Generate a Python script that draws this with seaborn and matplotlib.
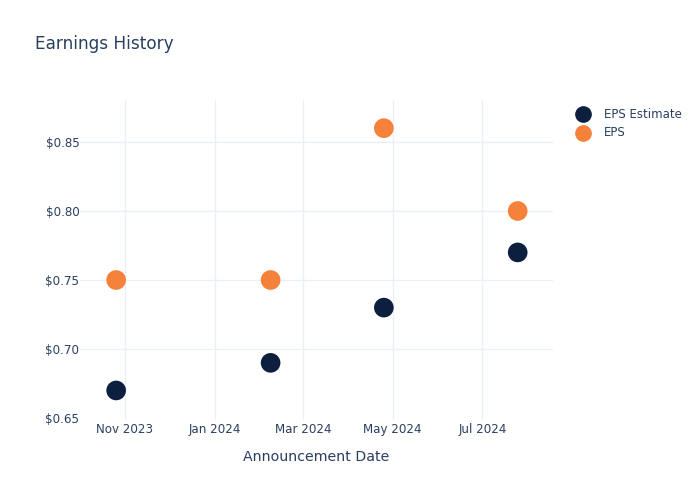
import matplotlib
matplotlib.use("Agg")
import matplotlib.pyplot as plt
import matplotlib.dates as mdates
from matplotlib.ticker import FuncFormatter, FixedLocator
import seaborn as sns
import pandas as pd

dates = ["2023-10-26", "2024-02-08", "2024-04-25", "2024-07-25"]
eps_estimate = [0.67, 0.69, 0.73, 0.77]
eps_actual = [0.75, 0.75, 0.86, 0.80]
series_names = ["EPS Estimate", "EPS"]
tick_dates = ["2023-11-01", "2024-01-01", "2024-03-01", "2024-05-01", "2024-07-01"]
y_ticks = [0.65, 0.70, 0.75, 0.80, 0.85]

df = pd.concat([
    pd.DataFrame({"date": pd.to_datetime(dates), "value": eps_estimate, "series": series_names[0]}),
    pd.DataFrame({"date": pd.to_datetime(dates), "value": eps_actual, "series": series_names[1]}),
])

sns.set_theme(style="white")
plt.rcParams['font.family'] = ['DejaVu Sans']
text_color = "#2a3f5f"
grid_color = "#ebf0f8"

fig = plt.figure(figsize=(7, 5), dpi=100)
ax = fig.add_axes([80/700, 80/500, (553-80)/700, (420-100)/500])

palette = {"EPS Estimate": "#0d1f3f", "EPS": "#f5813a"}
sns.scatterplot(data=df, x="date", y="value", hue="series", palette=palette,
                s=200, linewidth=0, ax=ax, zorder=3, legend=False)

ax.set_xlim(pd.Timestamp("2023-10-01 10:00"), pd.Timestamp("2024-08-18"))
ax.set_ylim(0.6486, 0.8804)
ax.xaxis.set_major_locator(FixedLocator([mdates.date2num(pd.Timestamp(d)) for d in tick_dates]))
ax.xaxis.set_major_formatter(mdates.DateFormatter("%b %Y"))
ax.yaxis.set_major_locator(FixedLocator(y_ticks))
ax.yaxis.set_major_formatter(FuncFormatter(lambda v, p: f"${v:.2f}"))

ax.grid(True, color=grid_color, linewidth=1)
ax.set_axisbelow(True)
ygl = ax.yaxis.get_gridlines()
if ygl:
    ygl[0].set_visible(False)
for sp in ax.spines.values():
    sp.set_visible(False)
ax.tick_params(axis="both", length=0, labelsize=8.6, labelcolor=text_color)
ax.tick_params(axis="x", pad=2)
ax.tick_params(axis="y", pad=0.5)
ax.set_xlabel("Announcement Date", fontsize=10.2, color=text_color, labelpad=10)
ax.set_ylabel("")

fig.text(35/700, 1 - 44/500, "Earnings History", fontsize=12.2, color=text_color,
         ha="left", va="center")

for i, name in enumerate(series_names):
    y = 1 - (114 + 19*i)/500
    fig.lines.append(plt.Line2D([583/700], [y], transform=fig.transFigure, marker="o",
                                markersize=11, color=palette[name], linestyle="none"))
    fig.text(604/700, y, name, fontsize=8.5, color=text_color, ha="left", va="center")

fig.savefig("out.png", dpi=100)
